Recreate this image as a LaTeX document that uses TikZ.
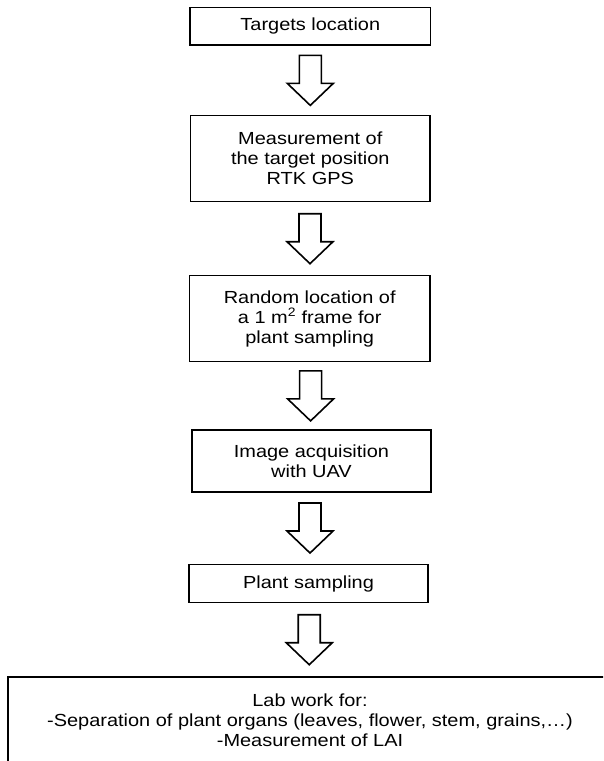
\documentclass[tikz,border=0pt]{standalone}
\usepackage{fontspec}
\setmainfont{Liberation Sans}[FakeStretch=1.14]
\usetikzlibrary{calc}

\tikzset{
  stepbox/.style={draw=black, line width=1.5pt, inner sep=0pt, align=center,
                  font=\fontsize{17.5}{20}\selectfont},
  arrowline/.style={draw=black, fill=white, line width=1.6pt, line join=miter},
  downarrow/.pic={
    \path[arrowline] (-11,25) -- (11,25) -- (11,-3) -- (23,-3) -- (0,-25)
                     -- (-23,-3) -- (-11,-3) -- cycle;
  }
}

\begin{document}
\begin{tikzpicture}[x=1pt, y=1pt]
  \useasboundingbox (0,0) rectangle (603,-761);
  \clip (0,0) rectangle (603,-761);

  % process steps
  \node[stepbox, minimum width=240.5pt, minimum height=37.7pt] (b1) at (310.3,-26.2)
    {Targets location};
  \node[stepbox, minimum width=239.3pt, minimum height=86pt] (b2) at (310.3,-158.7)
    {Measurement of\\the target position\\RTK GPS};
  \node[stepbox, minimum width=240.7pt, minimum height=86pt] (b3) at (309.7,-318.7)
    {Random location of\\a 1 m\textsuperscript{2} frame for\\plant sampling};
  \node[stepbox, minimum width=239pt, minimum height=61.7pt] (b4) at (311.5,-460.9)
    {Image acquisition\\with UAV};
  \node[stepbox, minimum width=239pt, minimum height=38.4pt] (b5) at (308.5,-583.5)
    {Plant sampling};
  \node[stepbox, anchor=north, minimum width=604pt, inner ysep=17pt, text depth=30pt]
    (b6) at (310,-676)
    {Lab work for:\\-Separation of plant organs (leaves, flower, stem, grains,…)\\-Measurement of LAI};

  % block arrows between consecutive steps
  \pic at ($(b1.south)!0.5!(b2.north)$) {downarrow};
  \pic at ($(b2.south)!0.5!(b3.north)$) {downarrow};
  \pic at ($(b3.south)!0.5!(b4.north)$) {downarrow};
  \pic at ($(b4.south)!0.5!(b5.north)$) {downarrow};
  \pic at ($(b5.south)!0.5!(b6.north)$) {downarrow};
\end{tikzpicture}
\end{document}
